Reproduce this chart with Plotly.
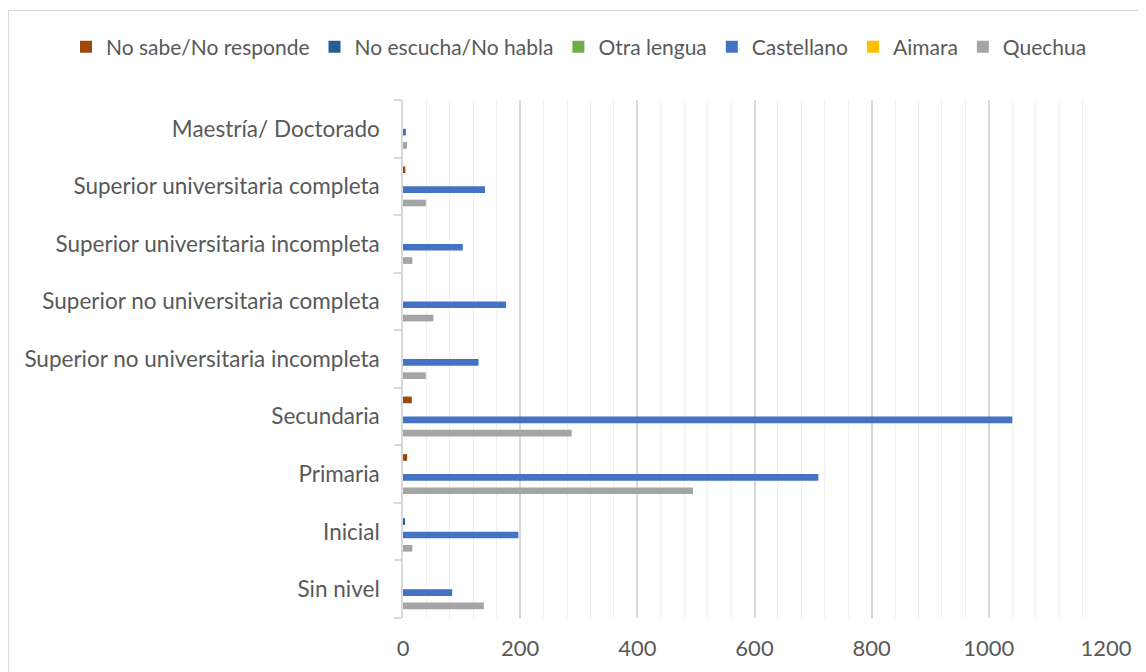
import plotly.graph_objects as go

categories = [
    "Sin nivel",
    "Inicial",
    "Primaria",
    "Secundaria",
    "Superior no universitaria incompleta",
    "Superior no universitaria completa",
    "Superior universitaria incompleta",
    "Superior universitaria completa",
    "Maestría/ Doctorado",
]

quechua = [138, 16, 495, 288, 39, 52, 16, 39, 7]
aimara = [0, 0, 0, 0, 0, 0, 0, 0, 0]
castellano = [84, 197, 709, 1040, 129, 176, 102, 140, 5]
otra_lengua = [0, 0, 0, 0, 0, 0, 0, 0, 0]
no_escucha = [0, 3, 0, 0, 0, 0, 0, 0, 0]
no_sabe = [0, 0, 7, 15, 0, 0, 0, 4, 0]

series = [
    ("Quechua", quechua, "#A5A5A5"),
    ("Aimara", aimara, "#FFC000"),
    ("Castellano", castellano, "#4472C4"),
    ("Otra lengua", otra_lengua, "#70AD47"),
    ("No escucha/No habla", no_escucha, "#255E91"),
    ("No sabe/No responde", no_sabe, "#9E480E"),
]

FONT = "Lato"
TXT = "#595959"

fig = go.Figure()
for name, vals, col in series:
    fig.add_trace(go.Bar(
        y=categories, x=vals, name=name, orientation="h",
        marker=dict(color=col, line=dict(width=0)),
    ))

# page body has an 8px margin; figure is sized/positioned to compensate
W, H = 1138, 664
L, R, T, B = 395, 40, 92, 54
pw = W - L - R
ph = H - T - B

def px_x(p):
    return (p - L) / pw

def px_y(p):
    return 1 - (p - T) / ph

fig.update_layout(
    width=W, height=H,
    margin=dict(l=L, r=R, t=T, b=B, autoexpand=False),
    paper_bgcolor="white", plot_bgcolor="white",
    barmode="group", bargap=0.306, bargroupgap=0,
    font=dict(family=FONT, size=22, color=TXT),
    legend=dict(
        orientation="h", traceorder="reversed",
        xref="paper", yref="paper",
        x=px_x(58), xanchor="left", y=px_y(39), yanchor="middle",
        font=dict(family=FONT, size=21, color=TXT),
        bgcolor="rgba(0,0,0,0)",
        itemwidth=30, tracegroupgap=0,
    ),
    xaxis=dict(
        range=[0, 1200], dtick=200, tick0=0,
        showgrid=True, gridcolor="#D9D9D9", gridwidth=1.5,
        minor=dict(dtick=40, tick0=0, showgrid=True, gridcolor="#EFEFEF", gridwidth=1),
        zeroline=False, showline=False, ticks="",
        tickfont=dict(family=FONT, size=22, color=TXT),
        ticklabelstandoff=15, fixedrange=True,
    ),
    yaxis=dict(
        type="category", categoryorder="array", categoryarray=categories,
        showline=True, linecolor="#D9D9D9", linewidth=1.5,
        ticks="outside", tickson="boundaries", ticklen=7, tickcolor="#D9D9D9", tickwidth=1.5,
        showgrid=False, zeroline=False,
        tickfont=dict(family=FONT, size=22.5, color=TXT),
        ticklabelstandoff=17, fixedrange=True,
    ),
    shapes=[dict(
        type="rect", xref="paper", yref="paper",
        x0=px_x(0.5), x1=px_x(1170), y0=px_y(700), y1=px_y(2.5),
        line=dict(color="#D9D9D9", width=1.2), fillcolor="rgba(0,0,0,0)", layer="below",
    )],
)

fig.write_html("out.html")
